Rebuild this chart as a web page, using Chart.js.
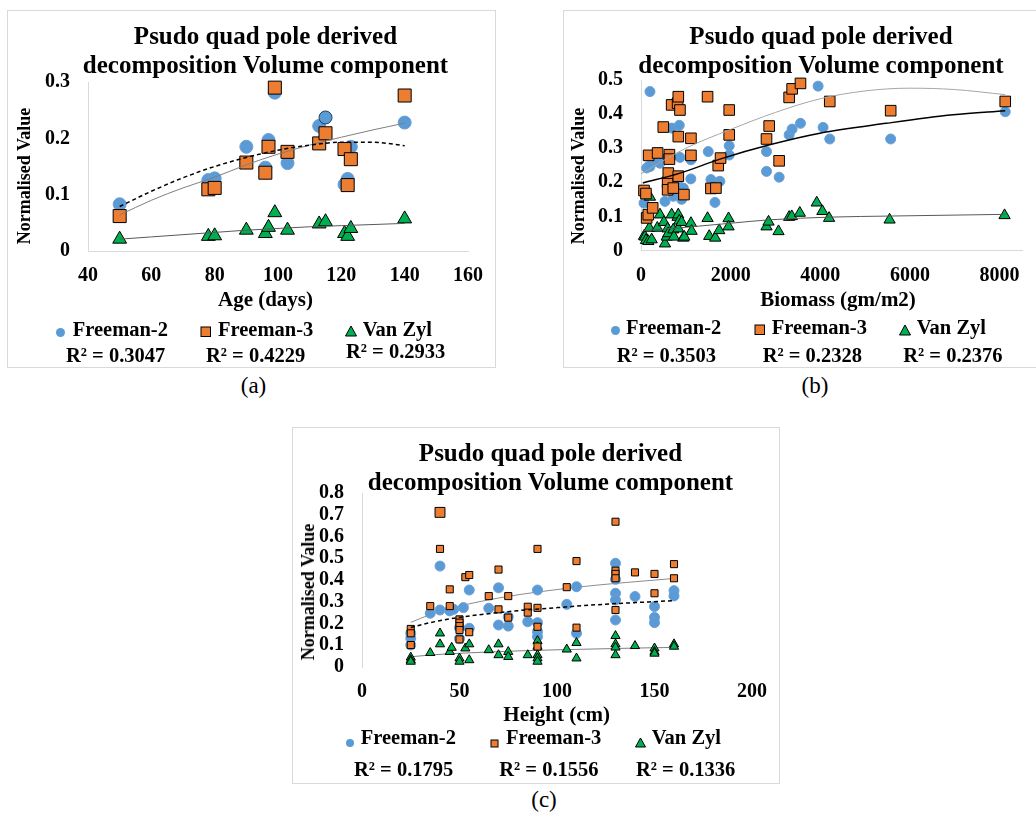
<!DOCTYPE html>
<html><head><meta charset="utf-8">
<script src="https://cdn.jsdelivr.net/npm/chart.js@4.4.1/dist/chart.umd.min.js"></script>
<style>
html,body{margin:0;padding:0;background:#fff;overflow:hidden;width:1036px;height:813px;position:relative;}
.box{position:absolute;border:1px solid #d9d9d9;box-sizing:border-box;}
canvas{position:absolute;}
.t{position:absolute;white-space:nowrap;line-height:1;font-family:'Liberation Serif','Times New Roman',serif;color:#000;}
.m{position:absolute;}
</style></head><body>
<script>
// ---------------- DATA ----------------
const titleLines = ['Psudo quad pole derived', 'decomposition Volume component'];
const seriesNames = ['Freeman-2', 'Freeman-3', 'Van Zyl'];

// Panel (a) : Age (days)
const a_xTicks = [40, 60, 80, 100, 120, 140, 160];
const a_yTicks = [0, 0.1, 0.2, 0.3];
const a_xTickLabels = ['40', '60', '80', '100', '120', '140', '160'];
const a_yTickLabels = ['0', '0.1', '0.2', '0.3'];
const a_age = [50, 78, 80, 90, 96, 97, 99, 103, 113, 115, 121, 122, 123, 140];
const a_F2 = [0.083, 0.126, 0.129, 0.185, 0.148, 0.197, 0.281, 0.156, 0.222, 0.237, 0.118, 0.128, 0.185, 0.228];
const a_F3 = [0.062, 0.1095, 0.112, 0.157, 0.139, 0.185, 0.290, 0.176, 0.191, 0.209, 0.181, 0.117, 0.163, 0.276];
const a_VZ = [0.021, 0.026, 0.027, 0.037, 0.031, 0.042, 0.068, 0.037, 0.048, 0.052, 0.031, 0.026, 0.040, 0.057];
const a_trendX = [50, 60, 70, 80, 90, 100, 110, 120, 130, 140];
const a_trendDash = [0.079, 0.106, 0.130, 0.150, 0.166, 0.179, 0.188, 0.193, 0.193, 0.187];
const a_trendSolid = [0.064, 0.090, 0.112, 0.131, 0.153, 0.172, 0.188, 0.202, 0.215, 0.227];
const a_trendVZ = [0.021, 0.025, 0.029, 0.033, 0.037, 0.040, 0.043, 0.045, 0.047, 0.049];
const a_r2 = ['R² = 0.3047', 'R² = 0.4229', 'R² = 0.2933'];

// Panel (b) : Biomass (gm/m2)
const b_xTicks = [0, 2000, 4000, 6000, 8000];
const b_yTicks = [0, 0.1, 0.2, 0.3, 0.4, 0.5];
const b_xTickLabels = ['0', '2000', '4000', '6000', '8000'];
const b_yTickLabels = ['0', '0.1', '0.2', '0.3', '0.4', '0.5'];
const b_F2x = [67, 89, 127, 163, 200, 200, 349, 423, 520, 535, 634, 684, 720, 720, 831, 854, 869, 906, 943, 1111, 1114, 1500, 1560, 1650, 1760, 1968, 1968, 2800, 2800, 3082, 3305, 3372, 3558, 3951, 4062, 4211, 5570, 8126];
const b_F2y = [0.139, 0.164, 0.242, 0.246, 0.246, 0.466, 0.261, 0.256, 0.268, 0.144, 0.275, 0.359, 0.159, 0.217, 0.208, 0.367, 0.273, 0.15, 0.183, 0.21, 0.266, 0.29, 0.208, 0.141, 0.203, 0.307, 0.28, 0.29, 0.232, 0.215, 0.339, 0.356, 0.373, 0.482, 0.361, 0.327, 0.327, 0.407];
const b_F3x = [67, 111, 126, 163, 170, 260, 371, 497, 594, 594, 609, 634, 634, 684, 720, 817, 832, 832, 832, 869, 958, 1114, 1114, 1485, 1560, 1671, 1723, 1775, 1968, 1968, 2800, 2860, 3082, 3305, 3372, 3558, 4211, 5570, 8126];
const b_F3y = [0.176, 0.167, 0.0955, 0.105, 0.279, 0.125, 0.286, 0.362, 0.2, 0.178, 0.227, 0.281, 0.268, 0.427, 0.183, 0.432, 0.451, 0.334, 0.218, 0.412, 0.164, 0.329, 0.279, 0.451, 0.182, 0.183, 0.249, 0.271, 0.412, 0.339, 0.327, 0.365, 0.263, 0.449, 0.474, 0.49, 0.437, 0.41, 0.437];
const b_VZx = [67, 89, 111, 163, 186, 200, 238, 364, 423, 512, 535, 573, 594, 609, 684, 720, 735, 816, 831, 832, 854, 906, 943, 966, 1114, 1129, 1485, 1522, 1656, 1745, 1953, 1953, 2800, 2845, 3068, 3305, 3364, 3543, 3921, 4047, 4196, 5546, 8111];
const b_VZy = [0.042, 0.04, 0.03, 0.027, 0.066, 0.157, 0.032, 0.066, 0.105, 0.083, 0.02, 0.04, 0.064, 0.05, 0.105, 0.061, 0.04, 0.098, 0.105, 0.064, 0.087, 0.083, 0.037, 0.04, 0.08, 0.057, 0.0945, 0.042, 0.037, 0.059, 0.094, 0.07, 0.07, 0.084, 0.056, 0.098, 0.1, 0.11, 0.14, 0.115, 0.095, 0.09, 0.103];
const b_trendGrayX = [0, 1000, 2000, 3000, 4000, 5000, 6000, 7000, 8126];
const b_trendGrayY = [0.225, 0.30, 0.355, 0.405, 0.445, 0.468, 0.476, 0.472, 0.457];
const b_trendBlackX = [40, 870, 1760, 2870, 3990, 5470, 6960, 8126];
const b_trendBlackY = [0.198, 0.227, 0.268, 0.31, 0.344, 0.373, 0.398, 0.41];
const b_trendVZX = [50, 1000, 2000, 2870, 4250, 5550, 8126];
const b_trendVZY = [0.058, 0.068, 0.08, 0.09, 0.098, 0.101, 0.106];
const b_r2 = ['R² = 0.3503', 'R² = 0.2328', 'R² = 0.2376'];

// Panel (c) : Height (cm)
const c_xTicks = [0, 50, 100, 150, 200];
const c_yTicks = [0, 0.1, 0.2, 0.3, 0.4, 0.5, 0.6, 0.7, 0.8];
const c_xTickLabels = ['0', '50', '100', '150', '200'];
const c_yTickLabels = ['0', '0.1', '0.2', '0.3', '0.4', '0.5', '0.6', '0.7', '0.8'];
const c_F2x = [25, 25, 25, 35, 40, 40, 45, 47, 50, 50, 52, 55, 55, 65, 70, 70, 75, 75, 85, 90, 90, 90, 90, 105, 110, 110, 130, 130, 130, 130, 130, 140, 150, 150, 150, 160, 160];
const c_F2y = [0.155, 0.132, 0.101, 0.247, 0.464, 0.262, 0.258, 0.265, 0.18, 0.13, 0.273, 0.354, 0.178, 0.27, 0.364, 0.193, 0.188, 0.231, 0.208, 0.354, 0.204, 0.162, 0.139, 0.288, 0.369, 0.155, 0.477, 0.403, 0.339, 0.308, 0.216, 0.324, 0.278, 0.228, 0.204, 0.351, 0.327];
const c_F3x = [25, 25, 25, 35, 40, 40, 45, 45, 50, 50, 50, 50, 50, 53, 55, 55, 65, 70, 70, 75, 75, 85, 85, 90, 90, 90, 90, 105, 110, 110, 130, 130, 130, 130, 130, 140, 150, 150, 160, 160];
const c_F3y = [0.175, 0.155, 0.101, 0.28, 0.711, 0.543, 0.357, 0.28, 0.219, 0.204, 0.188, 0.17, 0.127, 0.413, 0.423, 0.16, 0.326, 0.448, 0.265, 0.326, 0.227, 0.277, 0.25, 0.543, 0.272, 0.185, 0.094, 0.367, 0.487, 0.181, 0.668, 0.443, 0.428, 0.408, 0.262, 0.435, 0.428, 0.339, 0.473, 0.408];
const c_VZx = [25, 25, 25, 35, 40, 40, 45, 46, 50, 50, 53, 55, 55, 65, 70, 70, 75, 75, 85, 90, 90, 90, 90, 90, 105, 110, 110, 130, 130, 130, 130, 140, 150, 150, 150, 160, 160];
const c_VZy = [0.044, 0.032, 0.025, 0.065, 0.155, 0.105, 0.07, 0.089, 0.04, 0.025, 0.086, 0.105, 0.032, 0.078, 0.105, 0.055, 0.07, 0.047, 0.055, 0.12, 0.094, 0.055, 0.04, 0.025, 0.081, 0.111, 0.04, 0.143, 0.105, 0.09, 0.055, 0.097, 0.086, 0.07, 0.062, 0.105, 0.094];
const c_trendX = [25, 35, 45, 60, 80, 100, 120, 140, 160];
const c_trendSolid = [0.205, 0.241, 0.269, 0.300, 0.332, 0.356, 0.376, 0.392, 0.407];
const c_trendDash = [0.182, 0.204, 0.221, 0.240, 0.259, 0.273, 0.286, 0.296, 0.305];
const c_trendVZ = [0.047, 0.055, 0.061, 0.067, 0.074, 0.079, 0.083, 0.087, 0.090];
const c_r2 = ['R² = 0.1795', 'R² = 0.1556', 'R² = 0.1336'];

// ---------------- HELPERS ----------------
const SERIF = "'Liberation Serif','Times New Roman',serif";
const BLUE = '#5B9BD5', ORANGE = '#ED7D31', GREEN = '#00B050';

function pts(xs, ys) { return xs.map((x, i) => ({x: x, y: ys[i]})); }

function box(l, t, w, h) {
  const d = document.createElement('div'); d.className = 'box';
  Object.assign(d.style, {left: l + 'px', top: t + 'px', width: w + 'px', height: h + 'px'});
  document.body.appendChild(d);
}
function txt(x, y, s, size, bold, align, rot) {
  const d = document.createElement('div'); d.className = 't';
  d.textContent = s;
  d.style.fontSize = size + 'px';
  d.style.fontWeight = bold ? 'bold' : 'normal';
  if (rot) {
    d.style.left = x + 'px'; d.style.top = y + 'px';
    d.style.transform = 'translate(-50%,-50%) rotate(-90deg)';
  } else {
    d.style.top = (y - 0.5065 * size) + 'px';
    d.style.left = x + 'px';
    if (align === 'c') d.style.transform = 'translateX(-50%)';
  }
  document.body.appendChild(d);
}
function marker(kind, cx, cy, s) {
  const d = document.createElement('div'); d.className = 'm';
  const w = s + 2;
  Object.assign(d.style, {left: (cx - w / 2) + 'px', top: (cy - w / 2) + 'px', width: w + 'px', height: w + 'px'});
  let svg = '';
  if (kind === 0) svg = `<circle cx="${w/2}" cy="${w/2}" r="${s/2}" fill="${BLUE}"/>`;
  if (kind === 1) svg = `<rect x="1" y="1" width="${s}" height="${s}" fill="${ORANGE}" stroke="#000" stroke-width="1"/>`;
  if (kind === 2) svg = `<polygon points="${w/2},1 ${w-0.5},${w-1} 0.5,${w-1}" fill="${GREEN}" stroke="#000" stroke-width="1"/>`;
  d.innerHTML = `<svg width="${w}" height="${w}" xmlns="http://www.w3.org/2000/svg">${svg}</svg>`;
  document.body.appendChild(d);
}

function scatterSet(data, color, style, r, border, order) {
  return {
    data: data, pointStyle: style, pointRadius: r, pointHoverRadius: r,
    pointBackgroundColor: color, backgroundColor: color,
    pointBorderColor: border, borderColor: border, pointBorderWidth: 1,
    showLine: false, order: order, clip: false
  };
}
function lineSet(data, color, width, dash, order) {
  return {
    data: data, showLine: true, pointRadius: 0, pointHoverRadius: 0,
    borderColor: color, borderWidth: width, borderDash: dash || [],
    backgroundColor: 'transparent', fill: false, tension: 0.4,
    cubicInterpolationMode: 'monotone', order: order, clip: false
  };
}

function makeChart(L, T, W, H, area, xr, yr, xTicks, xLabels, yTicks, yLabels, datasets, xBorder) {
  const c = document.createElement('canvas');
  c.width = W; c.height = H;
  Object.assign(c.style, {left: L + 'px', top: T + 'px', width: W + 'px', height: H + 'px'});
  document.body.appendChild(c);
  const font = {family: SERIF, size: 20, weight: 'bold'};
  new Chart(c, {
    type: 'scatter',
    data: {datasets: datasets},
    options: {
      responsive: false, animation: false, devicePixelRatio: 1,
      layout: {padding: {left: 0, top: area.top - T, right: L + W - area.right, bottom: 0}},
      plugins: {legend: {display: false}, tooltip: {enabled: false}, title: {display: false}},
      scales: {
        x: {
          type: 'linear', min: xr[0], max: xr[1],
          afterFit: s => { s.height = T + H - area.bottom; },
          afterBuildTicks: s => { s.ticks = xTicks.map(v => ({value: v})); },
          ticks: {font: font, color: '#000', padding: 13, maxRotation: 0, autoSkip: false,
                  callback: (v, i) => xLabels[i]},
          grid: {display: false, drawTicks: false},
          border: {display: xBorder, color: '#d9d9d9', width: 1}
        },
        y: {
          type: 'linear', min: yr[0], max: yr[1],
          afterFit: s => { s.width = area.left - L; },
          afterBuildTicks: s => { s.ticks = yTicks.map(v => ({value: v})); },
          ticks: {font: font, color: '#000', padding: 18, autoSkip: false,
                  callback: (v, i) => yLabels[i]},
          grid: {display: false, drawTicks: false},
          border: {display: true, color: '#d9d9d9', width: 1}
        }
      }
    }
  });
}

// ---------------- PANEL (a) ----------------
box(7, 10, 489, 358);
makeChart(7, 10, 489, 300, {left: 88, right: 470, top: 82, bottom: 251},
  [40, 160], [0, 0.3], a_xTicks, a_xTickLabels, a_yTicks, a_yTickLabels, [
    lineSet(pts(a_trendX, a_trendDash), '#000', 1.5, [4, 3], 1),
    lineSet(pts(a_trendX, a_trendSolid), '#7f7f7f', 1, null, 1),
    lineSet(pts(a_trendX, a_trendVZ), '#595959', 1, null, 1),
    Object.assign(scatterSet(pts(a_age, a_F2), BLUE, 'circle', 6.5, a_F2.map((v, i) => i === 9 ? '#1f3f5f' : '#6a9fd6'), 3)),
    scatterSet(pts(a_age, a_F3), ORANGE, 'rect', 9.2, '#000', 2),
    scatterSet(pts(a_age, a_VZ), GREEN, 'triangle', 8, '#000', 2)
  ], true);
txt(265.5, 35.5, titleLines[0], 25, true, 'c');
txt(265.5, 65, titleLines[1], 25, true, 'c');
txt(23.5, 175.5, 'Normalised Value', 18, true, 'c', true);
txt(265.5, 300, 'Age (days)', 21, true, 'c');
marker(0, 60.7, 329.5, 9); txt(72.7, 329.5, seriesNames[0], 20.5, true, 'l');
marker(1, 206, 329, 9.5); txt(218, 329.5, seriesNames[1], 20.5, true, 'l');
marker(2, 351, 329, 10); txt(362.7, 329.5, seriesNames[2], 20.5, true, 'l');
txt(66, 355, a_r2[0], 20.5, true, 'l');
txt(206, 355, a_r2[1], 20.5, true, 'l');
txt(346, 351, a_r2[2], 20.5, true, 'l');
txt(253.5, 386, '(a)', 23, false, 'c');

// ---------------- PANEL (b) ----------------
box(563, 10, 500, 358);
makeChart(563, 10, 500, 300, {left: 641, right: 1022, top: 80, bottom: 250.5},
  [0, 8500], [0, 0.5], b_xTicks, b_xTickLabels, b_yTicks, b_yTickLabels, [
    lineSet(pts(b_trendGrayX, b_trendGrayY), '#a6a6a6', 1, null, 1),
    lineSet(pts(b_trendBlackX, b_trendBlackY), '#000', 1.4, null, 1),
    lineSet(pts(b_trendVZX, b_trendVZY), '#595959', 1, null, 1),
    scatterSet(pts(b_F2x, b_F2y), BLUE, 'circle', 5, '#6a9fd6', 3),
    scatterSet(pts(b_F3x, b_F3y), ORANGE, 'rect', 7.5, '#000', 2),
    scatterSet(pts(b_VZx, b_VZy), GREEN, 'triangle', 6.5, '#000', 2)
  ], true);
txt(821, 35.5, titleLines[0], 25, true, 'c');
txt(821, 65, titleLines[1], 25, true, 'c');
txt(578, 176, 'Normalised Value', 18, true, 'c', true);
txt(838, 300, 'Biomass (gm/m2)', 21, true, 'c');
marker(0, 615, 327.5, 9); txt(626, 327, seriesNames[0], 20.5, true, 'l');
marker(1, 759.5, 327.5, 9.5); txt(771.7, 327, seriesNames[1], 20.5, true, 'l');
marker(2, 905, 328, 10); txt(916.7, 327, seriesNames[2], 20.5, true, 'l');
txt(616.7, 355.5, b_r2[0], 20.5, true, 'l');
txt(762.7, 355.5, b_r2[1], 20.5, true, 'l');
txt(903.3, 355.5, b_r2[2], 20.5, true, 'l');
txt(815, 386, '(b)', 23, false, 'c');

// ---------------- PANEL (c) ----------------
box(292, 427, 488, 357);
makeChart(292, 427, 488, 290, {left: 362, right: 757, top: 493, bottom: 667},
  [0, 200], [0, 0.8], c_xTicks, c_xTickLabels, c_yTicks, c_yTickLabels, [
    lineSet(pts(c_trendX, c_trendSolid), '#8c8c8c', 1, null, 5),
    lineSet(pts(c_trendX, c_trendDash), '#000', 1.5, [4, 3], 1),
    lineSet(pts(c_trendX, c_trendVZ), '#7f7f7f', 1, null, 5),
    scatterSet(pts(c_F2x, c_F2y), BLUE, 'circle', 5, '#6a9fd6', 4),
    scatterSet(pts(c_F3x, c_F3y), ORANGE, 'rect', c_F3y.map(v => v > 0.7 ? 7 : 5), '#000', 3),
    scatterSet(pts(c_VZx, c_VZy), GREEN, 'triangle', 5.3, '#000', 3)
  ], false);
txt(550.5, 453, titleLines[0], 25, true, 'c');
txt(550.5, 481.7, titleLines[1], 25, true, 'c');
txt(307.5, 591.7, 'Normalised Value', 18, true, 'c', true);
txt(556.7, 715, 'Height (cm)', 21, true, 'c');
marker(0, 350, 739, 8); txt(360.7, 737.5, seriesNames[0], 20.5, true, 'l');
marker(1, 494, 738.5, 7); txt(506, 737.5, seriesNames[1], 20.5, true, 'l');
marker(2, 640, 739, 9); txt(651.7, 737.5, seriesNames[2], 20.5, true, 'l');
txt(354, 769, c_r2[0], 20.5, true, 'l');
txt(499.3, 769, c_r2[1], 20.5, true, 'l');
txt(636, 769, c_r2[2], 20.5, true, 'l');
txt(544, 800, '(c)', 23, false, 'c');
</script>
</body></html>
